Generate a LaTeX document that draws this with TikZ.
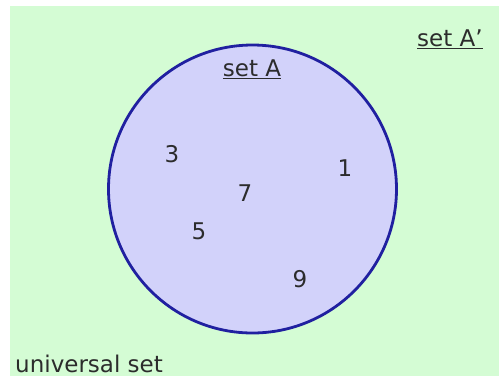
\documentclass[tikz,border=0pt]{standalone}
\usepackage{fontspec}
\setmainfont{DejaVu Sans}
\definecolor{univgreen}{RGB}{212,252,212}
\definecolor{setfill}{RGB}{210,210,250}
\definecolor{setline}{RGB}{32,32,160}
\definecolor{labelgray}{RGB}{44,44,44}
\begin{document}
\begin{tikzpicture}[x=1pt,y=-1pt,
  lbl/.style={text=labelgray,font=\fontsize{23}{27}\selectfont,inner sep=0pt},
  setcircle/.style={draw=setline,fill=setfill,line width=2.8pt}]
\useasboundingbox (0,0) rectangle (499,376);
% universal set
\fill[univgreen] (10,6) rectangle (499,376);
% set A
\node[setcircle,circle,minimum size=288pt,inner sep=0pt] (A) at (252.5,189) {};
\node[lbl,anchor=base] (setA) at (252,76) {\underline{set A}};
\node[lbl,anchor=base] (setAc) at (450,46) {\underline{set A’}};
\node[lbl,anchor=base west] (univ) at (15,372) {universal set};
% elements
\node[lbl] (n3) at (172,154) {3};
\node[lbl] (n1) at (345,168) {1};
\node[lbl] (n7) at (245,193) {7};
\node[lbl] (n5) at (199,231) {5};
\node[lbl] (n9) at (300,279) {9};
\end{tikzpicture}
\end{document}
